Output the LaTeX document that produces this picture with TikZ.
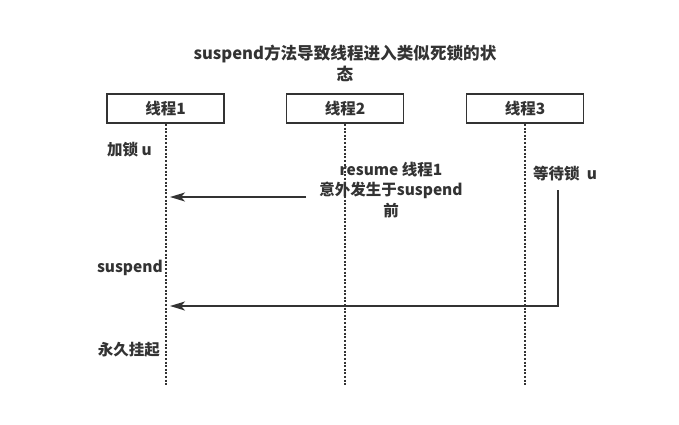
\documentclass[tikz,border=0pt]{standalone}
\usepackage{fontspec}
\setmainfont{Noto Sans CJK SC}
\usepackage{xcolor}
\usetikzlibrary{arrows.meta, positioning}
\definecolor{ink}{HTML}{333333}

\begin{document}
\begin{tikzpicture}[
  x=1pt, y=-1pt,
  lane/.style={draw=ink, line width=1.8pt, minimum width=117pt, minimum height=29pt, inner sep=0pt, text=ink, font=\fontsize{15.5}{18}\selectfont\bfseries},
  life/.style={ink, line width=2pt, dash pattern=on 2pt off 1.6pt},
  note/.style={inner sep=0pt, align=center, text=ink, font=\fontsize{15.5}{20.5}\selectfont\bfseries},
  arrow/.style={-{Stealth[length=15pt, width=9pt, inset=4pt]}, line width=1.8pt, ink},
]
\useasboundingbox (0,0) rectangle (679,424);

% Title
\node[note, font=\fontsize{16.6}{21}\selectfont\bfseries] (title) at (345,63) {suspend方法导致线程进入类似死锁的状\\态};

% Threads and their lifelines
\foreach \i/\x in {1/165.5, 2/345, 3/525} {
  \node[lane] (t\i) at (\x,108.5) {线程\i};
  \coordinate (end\i) at (\x,386);
  \draw[life] (t\i.south) -- (end\i);
}

% Notes
\node[note, anchor=west] (lock) at (107,150) {加锁 u};
\node[note] (resume) at (391,190) {resume 线程1\\意外发生于suspend\\前};
\node[note, anchor=west] (wait) at (533,174) {等待锁\ \ u};
\node[note, anchor=east] (susp) at (163,268) {suspend};
\node[note, anchor=east] (hang) at (160,350) {永久挂起};

% Messages
\coordinate (a1) at (306,197);
\coordinate (a1end) at (170,197);
\draw[arrow] (a1) -- (a1end);

\coordinate (a2) at (558,190);
\coordinate (a2end) at (170,306);
\draw[arrow] (a2) |- (a2end);

\end{tikzpicture}
\end{document}
